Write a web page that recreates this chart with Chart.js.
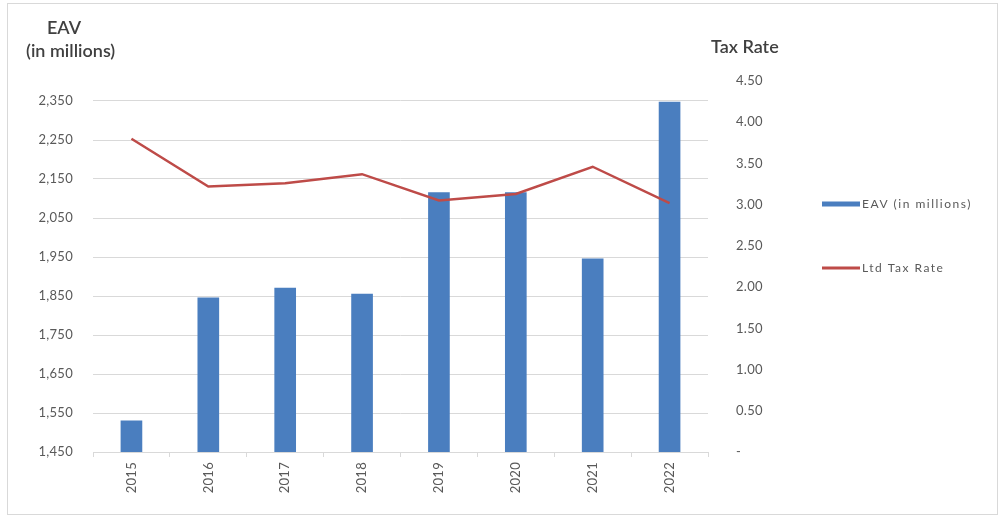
<!DOCTYPE html>
<html><head><meta charset="utf-8">
<script src="https://cdn.jsdelivr.net/npm/chart.js@4/dist/chart.umd.min.js"></script>
<style>html,body{margin:0;padding:0;background:#fff}canvas{display:block}</style>
</head><body>
<canvas id="c" width="1000" height="519"></canvas>
<script>
const years = ['2015','2016','2017','2018','2019','2020','2021','2022'];
const eavMillions = [1530, 1845, 1870, 1855, 2115, 2115, 1945, 2347];
const ltdTaxRate = [3.80, 3.22, 3.26, 3.37, 3.05, 3.13, 3.46, 3.02];
const eavTicks = [1450, 1550, 1650, 1750, 1850, 1950, 2050, 2150, 2250, 2350];
const rateTicks = [0, 0.5, 1, 1.5, 2, 2.5, 3, 3.5, 4, 4.5];
const leftTitle = ['EAV', '(in millions)'];
const rightTitle = 'Tax Rate';

const FONT = 'Lato, "Open Sans", sans-serif';
const TICK_COLOR = '#595959';
const GRID = '#d9d9d9';

const decor = {
  id: 'decor',
  beforeDraw(chart) {
    const ctx = chart.ctx;
    ctx.save();
    ctx.fillStyle = '#fff';
    ctx.fillRect(0, 0, chart.width, chart.height);
    ctx.strokeStyle = '#d9d9d9';
    ctx.lineWidth = 1;
    ctx.strokeRect(7.5, 3.5, 990, 511);
    ctx.restore();
    ctx.letterSpacing = '0.3px';
  },
  afterDraw(chart) {
    const ctx = chart.ctx;
    ctx.save();
    ctx.letterSpacing = '0px';
    ctx.fillStyle = '#404040';
    ctx.font = '600 18px ' + FONT;
    ctx.textBaseline = 'middle';
    ctx.textAlign = 'left';
    ctx.fillText(leftTitle[0], 47, 28);
    ctx.fillText(leftTitle[1], 26, 51);
    ctx.fillText(rightTitle, 711, 47);
    // legend
    const ds = chart.data.datasets;
    const items = [{y: 204, w: 5}, {y: 268, w: 3}];
    ctx.font = '12px ' + FONT;
    ctx.letterSpacing = '1.5px';
    ctx.fillStyle = TICK_COLOR;
    ds.forEach((d, i) => {
      const it = items[i];
      ctx.strokeStyle = d.legendColor;
      ctx.lineWidth = it.w;
      ctx.beginPath();
      ctx.moveTo(822, it.y);
      ctx.lineTo(860, it.y);
      ctx.stroke();
      ctx.fillText(d.label, 862, it.y);
    });
    ctx.restore();
  }
};

new Chart(document.getElementById('c'), {
  type: 'bar',
  data: {
    labels: years,
    datasets: [
      {
        type: 'bar',
        label: 'EAV (in millions)',
        data: eavMillions,
        backgroundColor: '#4a7ebf',
        legendColor: '#4a7ebf',
        barThickness: 21,
        yAxisID: 'yL',
        order: 2
      },
      {
        type: 'line',
        label: 'Ltd Tax Rate',
        data: ltdTaxRate,
        borderColor: '#be4b48',
        legendColor: '#be4b48',
        borderWidth: 2.5,
        pointRadius: 0,
        tension: 0,
        yAxisID: 'yR',
        order: 1
      }
    ]
  },
  options: {
    responsive: false,
    animation: false,
    devicePixelRatio: 1,
    layout: { padding: { top: 81, right: 210, bottom: 0, left: 0 } },
    plugins: { legend: { display: false }, tooltip: { enabled: false } },
    scales: {
      x: {
        offset: true,
        grid: { display: true, drawOnChartArea: false, tickLength: 5, color: GRID, offset: true },
        border: { display: true, color: GRID },
        ticks: { color: TICK_COLOR, font: { size: 13, family: FONT }, minRotation: 90, maxRotation: 90, padding: 5 },
        afterFit(s) { s.height = 67; }
      },
      yL: {
        position: 'left',
        min: 1450,
        max: 1450 + 371 / 0.39,
        grid: { color: GRID, drawTicks: false },
        border: { display: false },
        ticks: {
          color: TICK_COLOR, font: { size: 13, family: FONT }, padding: 20,
          callback: v => Number(v).toLocaleString('en-US')
        },
        afterBuildTicks(s) { s.ticks = eavTicks.map(v => ({ value: v })); },
        afterFit(s) { s.width = 93; }
      },
      yR: {
        position: 'right',
        min: 0,
        max: 4.5,
        grid: { display: false, drawOnChartArea: false },
        border: { display: false },
        ticks: {
          color: TICK_COLOR, font: { size: 13, family: FONT }, padding: 20,
          callback: v => (Number(v) === 0 ? '-' : Number(v).toFixed(2))
        },
        afterBuildTicks(s) { s.ticks = rateTicks.map(v => ({ value: v })); },
        afterFit(s) { s.width = 82; }
      }
    }
  },
  plugins: [decor]
});
</script>
</body></html>
